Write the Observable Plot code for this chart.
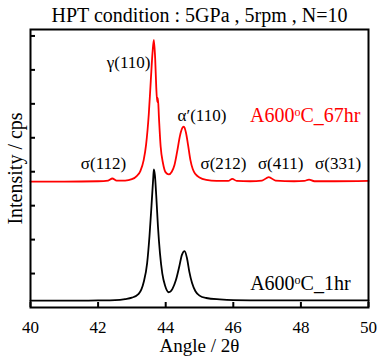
<!DOCTYPE html>
<html>
<head>
<meta charset="utf-8">
<script src="https://cdn.jsdelivr.net/npm/d3@7"></script>
<script src="https://cdn.jsdelivr.net/npm/@observablehq/plot@0.6"></script>
<style>
  html, body { margin: 0; padding: 0; background: white; }
</style>
</head>
<body>
<div id="chart"></div>
<script>
// ---- data ----
const blackAngle = [40, 41, 42, 42.5, 42.8, 43.0, 43.2, 43.35, 43.45, 43.52, 43.58, 43.63, 43.65, 43.68, 43.72, 43.77, 43.83, 43.9, 43.98, 44.09, 44.2, 44.3, 44.4, 44.48, 44.56, 44.63, 44.7, 44.78, 44.88, 45.0, 45.2, 45.6, 46, 47, 48, 49, 50];
const blackI =     [0.20, 0.20, 0.21, 0.22, 0.25, 0.29, 0.40, 0.75, 1.3, 2.1, 3.0, 3.8, 4.07, 3.9, 3.3, 2.4, 1.6, 1.0, 0.65, 0.45, 0.55, 0.8, 1.2, 1.55, 1.66, 1.45, 1.05, 0.72, 0.48, 0.35, 0.28, 0.24, 0.22, 0.21, 0.21, 0.21, 0.21];

const redAngle = [40, 41, 42, 42.3, 42.42, 42.55, 42.8, 43.0, 43.15, 43.25, 43.35, 43.42, 43.5, 43.56, 43.61, 43.65, 43.69, 43.72, 43.75, 43.77, 43.8, 43.85, 43.92, 44.0, 44.09, 44.18, 44.26, 44.34, 44.42, 44.5, 44.54, 44.6, 44.66, 44.73, 44.8, 44.88, 45.0, 45.2, 45.5, 45.85, 45.97, 46.1, 46.5, 46.85, 47.05, 47.25, 47.8, 48.1, 48.24, 48.4, 49, 50];
const redI =     [3.71, 3.71, 3.72, 3.74, 3.80, 3.74, 3.74, 3.78, 3.88, 4.02, 4.35, 4.8, 5.7, 6.7, 7.5, 7.88, 7.3, 6.5, 6.05, 6.17, 5.6, 4.75, 4.25, 3.98, 3.92, 4.0, 4.2, 4.6, 5.05, 5.3, 5.33, 5.15, 4.8, 4.35, 4.08, 3.93, 3.83, 3.76, 3.73, 3.73, 3.79, 3.73, 3.72, 3.74, 3.84, 3.74, 3.72, 3.73, 3.77, 3.72, 3.72, 3.73];

const xTicks = [40, 42, 44, 46, 48, 50];
const yTicks = [1, 2, 3, 4, 5, 6, 7, 8];

// peak annotations
const gammaLabel = ["γ(110)"];      const gammaAngle = [43.55]; const gammaI = [7.23];
const alphaLabel = ["α′(110)"];     const alphaAngle = [44.35]; const alphaI = [5.66];
const sigmaLabels = ["σ(112)", "σ(212)", "σ(411)", "σ(331)"];
const sigmaAngle  = [42.16, 45.71, 47.4, 49.1];
const sigmaI      = [4.25, 4.25, 4.25, 4.25];

const seriesLabels = ["A600oC_67hr", "A600oC_1hr"];
const seriesLabelAngle = [49.76, 49.47];
const seriesLabelI = [5.66, 0.71];
const seriesColors = ["#ff0000", "#000000"];

const titleText = "HPT condition : 5GPa , 5rpm , N=10";
const xLabel = "Angle / 2θ";
const yLabel = "Intensity / cps";

// ---- build tables ----
const black = blackAngle.map((a, i) => ({a, v: blackI[i]}));
const red = redAngle.map((a, i) => ({a, v: redI[i]}));
const gamma = gammaLabel.map((t, i) => ({t, a: gammaAngle[i], v: gammaI[i]}));
const alpha = alphaLabel.map((t, i) => ({t, a: alphaAngle[i], v: alphaI[i]}));
const sigma = sigmaLabels.map((t, i) => ({t, a: sigmaAngle[i], v: sigmaI[i]}));
const series = seriesLabels.map((t, i) => ({t, a: seriesLabelAngle[i], v: seriesLabelI[i], c: seriesColors[i]}));

const W = 377, H = 362;
const mL = 30, mR = 9, mT = 29, mB = 55;
const innerW = W - mL - mR, innerH = H - mT - mB;
const serif = "'Liberation Serif', 'Times New Roman', serif";

const chart = Plot.plot({
  width: W,
  height: H,
  marginLeft: mL,
  marginRight: mR,
  marginTop: mT,
  marginBottom: mB,
  x: {domain: [40, 50], axis: null},
  y: {domain: [0, 8.19], axis: null},
  style: {fontFamily: serif, fontSize: "16px", background: "white", color: "black"},
  marks: [
    Plot.line(black, {x: "a", y: "v", stroke: "#000", strokeWidth: 1.8, curve: "monotone-x"}),
    Plot.line(red, {x: "a", y: "v", stroke: "#ff0000", strokeWidth: 1.8, curve: "monotone-x"}),
    Plot.tickX(xTicks, {x: d => d, stroke: "#000", strokeWidth: 2, insetTop: innerH - 5}),
    Plot.tickY(yTicks, {y: d => d, stroke: "#000", strokeWidth: 2, insetRight: innerW - 5}),
    Plot.text(xTicks, {x: d => d, text: d => String(d), frameAnchor: "bottom", lineAnchor: "middle", dy: 20, fontSize: 17, fontFamily: serif, fill: "#000"}),
    Plot.frame({stroke: "#000", strokeWidth: 2}),
    Plot.text(gamma, {x: "a", y: "v", text: "t", textAnchor: "end", fontSize: 17, fill: "#000"}),
    Plot.text(alpha, {x: "a", y: "v", text: "t", textAnchor: "start", fontSize: 17, fill: "#000"}),
    Plot.text(sigma, {x: "a", y: "v", text: "t", textAnchor: "middle", fontSize: 17, fill: "#000"}),
    Plot.text(series, {x: "a", y: "v", text: "t", textAnchor: "end", fontSize: 20, fill: "c"}),
    Plot.text([titleText], {text: d => d, frameAnchor: "top", lineAnchor: "middle", dy: -14, fontSize: 20, fill: "#000"}),
    Plot.text([xLabel], {text: d => d, frameAnchor: "bottom", lineAnchor: "middle", dy: 38, fontSize: 19, fill: "#000"}),
    Plot.text([yLabel], {text: d => d, frameAnchor: "left", textAnchor: "middle", lineAnchor: "middle", dx: -15, rotate: -90, fontSize: 20, fill: "#000"})
  ]
});

// superscript "o" in the series labels
d3.select(chart).selectAll("text").each(function() {
  const t = this.textContent;
  if (seriesLabels.includes(t)) {
    const i = t.indexOf("600o") + 3;
    const sel = d3.select(this);
    sel.text(null);
    sel.append("tspan").text(t.slice(0, i));
    sel.append("tspan").attr("font-size", "12px").attr("dy", "-6").text("o");
    sel.append("tspan").attr("dy", "6").text(t.slice(i + 1));
  }
});

document.getElementById("chart").appendChild(chart);
</script>
</body>
</html>
